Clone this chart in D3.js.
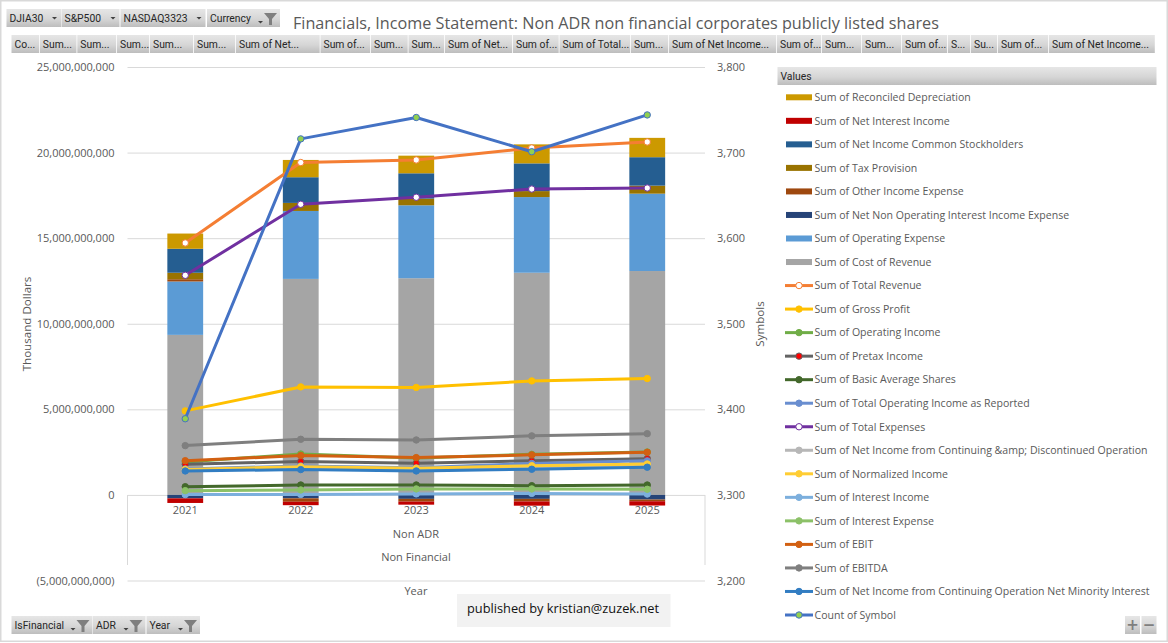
<!DOCTYPE html>
<html>
<head>
<meta charset="utf-8">
<script src="https://cdn.jsdelivr.net/npm/d3@7"></script>
<style>
  html, body { margin: 0; padding: 0; background: #fff; }
  svg { display: block; }
  .tick-label, .axis text { font-family: "Open Sans", sans-serif; font-size: 11px; fill: #595959; }
  .axis-title { font-family: "Open Sans", sans-serif; font-size: 11.6px; fill: #595959; }
  .legend-label { font-family: "Open Sans", sans-serif; font-size: 10.55px; fill: #595959; }
  .btn-label { font-family: "Roboto", sans-serif; font-size: 11.5px; fill: #262626; }
</style>
</head>
<body>
<svg id="chart" width="1168" height="643"></svg>
<script>
(function() {

    //Chart data (dollars, except symbol counts)
    var years = ['2021', '2022', '2023', '2024', '2025'];

    var reconciledDepreciation = [0.89e9, 1.01e9, 1.03e9, 1.11e9, 1.13e9],
        netInterestIncome = [-0.27e9, -0.20e9, -0.18e9, -0.25e9, -0.25e9],
        netIncomeCommon = [1.40e9, 1.50e9, 1.48e9, 1.62e9, 1.66e9],
        taxProvision = [0.38e9, 0.47e9, 0.39e9, 0.35e9, 0.47e9],
        otherIncomeExpense = [0.13e9, -0.20e9, -0.16e9, -0.15e9, -0.10e9],
        netNonOperating = [-0.20e9, -0.20e9, -0.23e9, -0.23e9, -0.27e9],
        operatingExpense = [3.12e9, 3.97e9, 4.26e9, 4.42e9, 4.52e9],
        costOfRevenue = [9.35e9, 12.62e9, 12.66e9, 12.98e9, 13.08e9];

    var totalRevenue = [14.72e9, 19.42e9, 19.57e9, 20.27e9, 20.62e9],
        grossProfit = [4.91e9, 6.31e9, 6.28e9, 6.66e9, 6.80e9],
        operatingIncome = [1.93e9, 2.39e9, 2.16e9, 2.37e9, 2.51e9],
        pretaxIncome = [1.79e9, 1.95e9, 1.85e9, 1.99e9, 2.12e9],
        basicAverageShares = [0.48e9, 0.58e9, 0.58e9, 0.54e9, 0.58e9],
        operatingIncomeReported = [1.52e9, 1.69e9, 1.58e9, 1.84e9, 1.99e9],
        totalExpenses = [12.83e9, 16.98e9, 17.39e9, 17.87e9, 17.93e9],
        netIncomeDiscontinued = [1.46e9, 1.58e9, 1.49e9, 1.64e9, 1.75e9],
        normalizedIncome = [1.49e9, 1.65e9, 1.56e9, 1.71e9, 1.81e9],
        interestIncome = [0.02e9, 0.03e9, 0.06e9, 0.09e9, 0.05e9],
        interestExpense = [0.25e9, 0.29e9, 0.35e9, 0.35e9, 0.33e9],
        ebit = [2.00e9, 2.30e9, 2.18e9, 2.34e9, 2.49e9],
        ebitda = [2.88e9, 3.25e9, 3.21e9, 3.45e9, 3.58e9],
        netIncomeMinority = [1.40e9, 1.48e9, 1.40e9, 1.50e9, 1.62e9];

    var countOfSymbol = [3389, 3716, 3741, 3701, 3744];

    var leftTicks = [-5e9, 0, 5e9, 10e9, 15e9, 20e9, 25e9],
        rightTicks = [3200, 3300, 3400, 3500, 3600, 3700, 3800];

    var topFields = ['DJIA30', 'S&P500', 'NASDAQ3323', 'Currency'],
        bottomFields = ['IsFinancial', 'ADR', 'Year'],
        valueFields = ['Co...', 'Sum...', 'Sum...', 'Sum...', 'Sum...', 'Sum...', 'Sum of Net...', 'Sum of...', 'Sum...', 'Sum...',
            'Sum of Net...', 'Sum of...', 'Sum of Total...', 'Sum...', 'Sum of Net Income...', 'Sum of...', 'Sum...', 'Sum...',
            'Sum of...', 'S...', 'Su...', 'Sum of...', 'Sum of Net Income...'];

    var bars = [
        { name: 'Sum of Reconciled Depreciation', values: reconciledDepreciation, color: '#cc9900' },
        { name: 'Sum of Net Interest Income', values: netInterestIncome, color: '#c00000' },
        { name: 'Sum of Net Income Common Stockholders', values: netIncomeCommon, color: '#255e91' },
        { name: 'Sum of Tax Provision', values: taxProvision, color: '#997300' },
        { name: 'Sum of Other Income Expense', values: otherIncomeExpense, color: '#9e480e' },
        { name: 'Sum of Net Non Operating Interest Income Expense', values: netNonOperating, color: '#264478' },
        { name: 'Sum of Operating Expense', values: operatingExpense, color: '#5b9bd5' },
        { name: 'Sum of Cost of Revenue', values: costOfRevenue, color: '#a5a5a5' }
    ];

    var lines = [
        { name: 'Sum of Total Revenue', values: totalRevenue, color: '#f47e33', marker: '#ffffff' },
        { name: 'Sum of Gross Profit', values: grossProfit, color: '#ffc000', marker: '#ffc000' },
        { name: 'Sum of Operating Income', values: operatingIncome, color: '#70ad47', marker: '#70ad47' },
        { name: 'Sum of Pretax Income', values: pretaxIncome, color: '#636363', marker: '#ff0000' },
        { name: 'Sum of Basic Average Shares', values: basicAverageShares, color: '#43682b', marker: '#43682b' },
        { name: 'Sum of Total Operating Income as Reported', values: operatingIncomeReported, color: '#698ed0', marker: '#698ed0' },
        { name: 'Sum of Total Expenses', values: totalExpenses, color: '#7030a0', marker: '#ffffff' },
        { name: 'Sum of Net Income from Continuing &amp; Discontinued Operation', values: netIncomeDiscontinued, color: '#b7b7b7', marker: '#b7b7b7' },
        { name: 'Sum of Normalized Income', values: normalizedIncome, color: '#ffcd33', marker: '#ffcd33' },
        { name: 'Sum of Interest Income', values: interestIncome, color: '#7cafdd', marker: '#7cafdd' },
        { name: 'Sum of Interest Expense', values: interestExpense, color: '#8cc168', marker: '#8cc168' },
        { name: 'Sum of EBIT', values: ebit, color: '#d26012', marker: '#d26012' },
        { name: 'Sum of EBITDA', values: ebitda, color: '#7f7f7f', marker: '#7f7f7f' },
        { name: 'Sum of Net Income from Continuing Operation Net Minority Interest', values: netIncomeMinority, color: '#327dc2', marker: '#327dc2' },
        { name: 'Count of Symbol', values: countOfSymbol, color: '#4472c4', marker: '#92d050', secondary: true }
    ];

    var svg = d3.select('#chart'),
        plotLeft = 127.5,
        plotRight = 705,
        plotTop = 67,
        plotBottom = 580.5,
        zeroY = 495;

    var defs = svg.append('defs');
    var gradient = defs.append('linearGradient')
        .attr('id', 'btnFill')
        .attr('x1', 0).attr('x2', 0).attr('y1', 0).attr('y2', 1);
    gradient.append('stop').attr('offset', '0%').attr('stop-color', '#e6e6e6');
    gradient.append('stop').attr('offset', '55%').attr('stop-color', '#d6d6d6');
    gradient.append('stop').attr('offset', '100%').attr('stop-color', '#bdbdbd');

    //Outer frame of the picture
    svg.append('rect')
        .attr('x', 0.75).attr('y', 0.75)
        .attr('width', 1166.5).attr('height', 640.5)
        .attr('fill', '#fff')
        .attr('stroke', '#d9d9d9')
        .attr('stroke-width', 1.5);

    var x = d3.scaleBand()
        .domain(years)
        .range([plotLeft, plotRight])
        .paddingInner(0.69)
        .paddingOuter(0.345);

    var y = d3.scaleLinear().domain([-5e9, 25e9]).range([plotBottom, plotTop]);
    var ySecondary = d3.scaleLinear().domain([3200, 3800]).range([plotBottom, plotTop]);

    var moneyFormat = function(d) {
        var s = d3.format(',')(Math.abs(d));
        return d < 0 ? '(' + s + ')' : s;
    };

    //Grid and left axis
    var leftAxis = svg.append('g')
        .attr('class', 'axis')
        .attr('transform', 'translate(' + plotLeft + ',0)')
        .call(d3.axisLeft(y).tickValues(leftTicks).tickFormat(moneyFormat).tickSize(-(plotRight - plotLeft)).tickPadding(13));
    leftAxis.select('.domain').remove();
    leftAxis.selectAll('.tick line').attr('stroke', '#d9d9d9').attr('stroke-width', 1);

    var rightAxis = svg.append('g')
        .attr('class', 'axis')
        .attr('transform', 'translate(' + plotRight + ',0)')
        .call(d3.axisRight(ySecondary).tickValues(rightTicks).tickFormat(d3.format(',')).tickSize(0).tickPadding(12));
    rightAxis.select('.domain').remove();

    //Multi level category axis
    [plotLeft, plotRight].forEach(function(px) {
        svg.append('line')
            .attr('x1', px).attr('x2', px)
            .attr('y1', zeroY).attr('y2', 565)
            .attr('stroke', '#d9d9d9');
    });

    var centerX = (plotLeft + plotRight) / 2 - 0.3;
    var axisTexts = [
        { label: 'Non ADR', y: 538 },
        { label: 'Non Financial', y: 561 },
        { label: 'Year', y: 595 }
    ];
    svg.selectAll('.level-label')
        .data(axisTexts)
        .enter()
            .append('text')
            .attr('class', 'tick-label level-label')
            .attr('text-anchor', 'middle')
            .attr('x', centerX)
            .attr('y', function(d) { return d.y; })
            .text(function(d) { return d.label; });

    svg.selectAll('.year-label')
        .data(years)
        .enter()
            .append('text')
            .attr('class', 'tick-label year-label')
            .attr('text-anchor', 'middle')
            .attr('x', function(d) { return x(d) + x.bandwidth() / 2; })
            .attr('y', 514)
            .text(function(d) { return d; });

    svg.append('text')
        .attr('class', 'axis-title')
        .attr('text-anchor', 'middle')
        .attr('transform', 'translate(31,324) rotate(-90)')
        .text('Thousand Dollars');

    svg.append('text')
        .attr('class', 'axis-title')
        .attr('text-anchor', 'middle')
        .attr('transform', 'translate(764,324) rotate(-90)')
        .text('Symbols');

    //Stacked bars, first key sits nearest the zero line
    var stackOrder = bars.slice().reverse();
    var stackRows = years.map(function(year, i) {
        var row = { year: year };
        stackOrder.forEach(function(s) { row[s.name] = s.values[i]; });
        return row;
    });

    var stacked = d3.stack()
        .keys(stackOrder.map(function(s) { return s.name; }))
        .offset(d3.stackOffsetDiverging)(stackRows);

    svg.append('g')
        .selectAll('g')
        .data(stacked)
        .enter()
            .append('g')
            .attr('fill', function(d) { return stackOrder[d.index].color; })
            .selectAll('rect')
            .data(function(d) { return d; })
            .enter()
                .append('rect')
                .attr('x', function(d) { return x(d.data.year); })
                .attr('width', x.bandwidth())
                .attr('y', function(d) { return y(Math.max(d[0], d[1])); })
                .attr('height', function(d) { return Math.abs(y(d[0]) - y(d[1])); });

    //Lines with their markers, secondary axis series stays on top
    var xCenter = function(i) { return x(years[i]) + x.bandwidth() / 2; };

    var lineGroups = svg.append('g')
        .selectAll('g')
        .data(lines)
        .enter()
            .append('g');

    lineGroups.append('path')
        .attr('fill', 'none')
        .attr('stroke', function(d) { return d.color; })
        .attr('stroke-width', 3)
        .attr('stroke-linejoin', 'round')
        .attr('stroke-linecap', 'round')
        .attr('d', function(d) {
            var scale = d.secondary ? ySecondary : y;
            return d3.line()
                .x(function(v, i) { return xCenter(i); })
                .y(function(v) { return scale(v); })(d.values);
        });

    lineGroups.selectAll('circle')
        .data(function(d) {
            return d.values.map(function(v, i) { return { v: v, i: i, s: d }; });
        })
        .enter()
            .append('circle')
            .attr('cx', function(d) { return xCenter(d.i); })
            .attr('cy', function(d) { return (d.s.secondary ? ySecondary : y)(d.v); })
            .attr('r', 3.2)
            .attr('fill', function(d) { return d.s.marker; })
            .attr('stroke', function(d) { return d.s.color; })
            .attr('stroke-width', 1);

    //Title
    svg.append('text')
        .attr('x', 293)
        .attr('y', 29)
        .attr('font-family', '"Open Sans", sans-serif')
        .attr('font-size', 16.2)
        .attr('fill', '#595959')
        .text('Financials, Income Statement: Non ADR non financial corporates publicly listed shares');

    //Pivot chart field buttons, squeezed text stands in for the narrow UI font
    function fieldButton(parent, bx, by, bw, bh, label, opts) {
        opts = opts || {};
        var g = parent.append('g');
        g.append('rect')
            .attr('x', bx).attr('y', by)
            .attr('width', bw).attr('height', bh)
            .attr('fill', 'url(#btnFill)');
        g.append('text')
            .attr('class', 'btn-label')
            .attr('transform', 'translate(' + (bx + 3) + ',' + (by + bh / 2 + 4) + ') scale(0.9,1)')
            .text(label);
        if (opts.arrow) {
            var ax = bx + bw - (opts.funnel ? 22 : 9);
            g.append('path')
                .attr('d', 'M' + ax + ',' + (by + bh / 2 + (opts.funnel ? 3 : -1)) + 'l5,0l-2.5,2.5z')
                .attr('fill', '#404040');
        }
        if (opts.funnel) {
            var fx = bx + bw - 16;
            g.append('path')
                .attr('d', 'M' + fx + ',' + (by + 4) + 'h13l-5,6v6h-3v-6z')
                .attr('fill', '#7f7f7f');
        }
    }

    var topWidths = [54.5, 58, 85, 73],
        topStarts = [6.5, 61.5, 120.5, 207];
    topFields.forEach(function(f, i) {
        fieldButton(svg, topStarts[i], 9, topWidths[i], 18, f, { arrow: true, funnel: f == 'Currency' });
    });

    var bottomStarts = [11.5, 93, 146.5],
        bottomWidths = [81, 52.5, 53.5];
    bottomFields.forEach(function(f, i) {
        fieldButton(svg, bottomStarts[i], 616, bottomWidths[i], 18, f, { arrow: true, funnel: true });
    });

    var valueEdges = [11.5, 39.8, 77.3, 117, 150, 194, 236, 320.5, 371, 408.5, 445, 513, 559.5, 631, 669, 777, 822, 862, 902, 948, 971, 998, 1049, 1155.6];
    valueFields.forEach(function(f, i) {
        fieldButton(svg, valueEdges[i], 35, valueEdges[i + 1] - valueEdges[i] - 0.8, 18, f);
    });

    //Legend
    svg.append('rect')
        .attr('x', 777.5).attr('y', 67)
        .attr('width', 379).attr('height', 18)
        .attr('fill', 'url(#btnFill)');
    svg.append('text')
        .attr('class', 'btn-label')
        .attr('transform', 'translate(780.5,80) scale(0.9,1)')
        .text('Values');

    var legendItems = bars.concat(lines);
    var legendY = d3.scalePoint()
        .domain(legendItems.map(function(d) { return d.name; }))
        .range([97.3, 615]);

    var legend = svg.append('g')
        .selectAll('g')
        .data(legendItems)
        .enter()
            .append('g')
            .attr('transform', function(d) { return 'translate(0,' + legendY(d.name) + ')'; });

    legend.append('text')
        .attr('class', 'legend-label')
        .attr('x', 814.5)
        .attr('y', 3.8)
        .text(function(d) { return d.name; });

    legend.filter(function(d) { return !d.marker; })
        .append('rect')
        .attr('x', 786).attr('y', -3)
        .attr('width', 26).attr('height', 6)
        .attr('fill', function(d) { return d.color; });

    var legendLines = legend.filter(function(d) { return !!d.marker; });
    legendLines.append('line')
        .attr('x1', 785).attr('x2', 813)
        .attr('stroke', function(d) { return d.color; })
        .attr('stroke-width', 3);
    legendLines.append('circle')
        .attr('cx', 799)
        .attr('r', 3.2)
        .attr('fill', function(d) { return d.marker; })
        .attr('stroke', function(d) { return d.color; });

    //Zoom buttons
    [{ bx: 1125, label: '+' }, { bx: 1141.5, label: '\u2212' }].forEach(function(b) {
        svg.append('rect')
            .attr('x', b.bx).attr('y', 616)
            .attr('width', 15).attr('height', 18)
            .attr('fill', 'url(#btnFill)');
        svg.append('text')
            .attr('x', b.bx + 7.5).attr('y', 630)
            .attr('text-anchor', 'middle')
            .attr('font-family', '"DejaVu Sans", sans-serif')
            .attr('font-size', 15)
            .attr('font-weight', 'bold')
            .attr('fill', '#7f7f7f')
            .text(b.label);
    });

    //Publisher note
    svg.append('rect')
        .attr('x', 457).attr('y', 594)
        .attr('width', 213.5).attr('height', 33)
        .attr('fill', '#f2f2f2');
    svg.append('text')
        .attr('x', 467).attr('y', 613)
        .attr('font-family', '"Open Sans", sans-serif')
        .attr('font-size', 12.8)
        .attr('fill', '#111')
        .text('published by kristian@zuzek.net');

}())
</script>
</body>
</html>
